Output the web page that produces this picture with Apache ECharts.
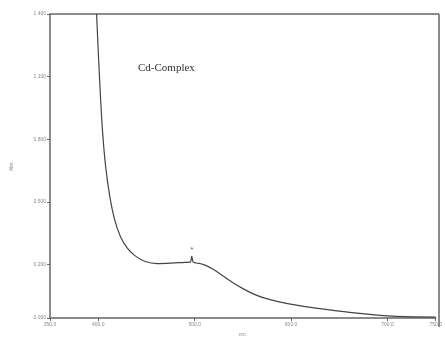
<!DOCTYPE html>
<html>
<head>
<meta charset="utf-8">
<script src="https://cdn.jsdelivr.net/npm/echarts@6/dist/echarts.min.js"></script>
<style>
html,body{margin:0;padding:0;background:#fff;}
#main{width:445px;height:342px;}
</style>
</head>
<body>
<div id="main"></div>
<script>
//波长 nm
var wavelength = [398.3, 400.4, 402.4, 404.5, 407.6, 411.7, 416.8, 423, 430.2, 438.4, 448.7, 461, 475.4, 489.8, 495.5, 497, 498.5, 502, 509.4, 519.7, 530, 540.2, 550.5, 560.8, 571, 586.5, 607, 636, 671, 705, 750];
//吸光度 Abs.
var absorbance = [1.40, 1.186, 1.000, 0.837, 0.674, 0.535, 0.419, 0.335, 0.279, 0.242, 0.215, 0.205, 0.207, 0.211, 0.212, 0.240, 0.212, 0.208, 0.200, 0.177, 0.144, 0.112, 0.084, 0.060, 0.042, 0.023, 0.005, -0.014, -0.033, -0.047, -0.051];
//刻度
var xTicks = [350, 400, 500, 600, 700, 750];
var yTicks = [-0.056, 0.200, 0.500, 0.800, 1.100, 1.400];
//峰位
var peakX = 497;
var peakY = 0.240;

var points = [];
for (var i = 0; i < wavelength.length; i++) {
	points.push([wavelength[i], absorbance[i]]);
}

var myChart = echarts.init(document.getElementById('main'));

var option = {
	animation: false,
	grid: {left: 50, right: 6, top: 14, bottom: 15},
	xAxis: {
		type: 'value',
		min: 350,
		max: 750,
		name: 'nm.',
		nameLocation: 'middle',
		nameGap: 8,
		nameTextStyle: {fontSize: 5, color: '#888'},
		axisLine: {show: true, onZero: false, lineStyle: {color: '#666', width: 1.5}},
		axisTick: {show: true, length: 3, customValues: xTicks, lineStyle: {color: '#666'}},
		axisLabel: {fontSize: 5, color: '#888', margin: 4, customValues: xTicks,
			formatter: function(v) { return v.toFixed(1); }},
		splitLine: {show: false}
	},
	yAxis: {
		type: 'value',
		min: -0.056,
		max: 1.4,
		name: 'Abs.',
		nameLocation: 'middle',
		nameGap: 36,
		nameRotate: 90,
		nameTextStyle: {fontSize: 5, color: '#888'},
		axisLine: {show: true, onZero: false, lineStyle: {color: '#666', width: 1.5}},
		axisTick: {show: true, length: 3, customValues: yTicks, lineStyle: {color: '#666'}},
		axisLabel: {fontSize: 5, color: '#888', margin: 4, customValues: yTicks,
			formatter: function(v) { return v < 0 ? '0.000' : v.toFixed(3); }},
		splitLine: {show: false}
	},
	series: [{
		type: 'line',
		data: points,
		symbol: 'none',
		smooth: 0.3,
		clip: true,
		lineStyle: {color: '#444', width: 1.2},
		markPoint: {
			symbol: 'circle',
			symbolSize: 0,
			label: {show: true, formatter: '*', fontSize: 7, color: '#555', offset: [0, -6]},
			data: [{coord: [peakX, peakY]}]
		}
	}],
	graphic: [
		//外框 右、上
		{type: 'line', shape: {x1: 50, y1: 14, x2: 439, y2: 14}, style: {stroke: '#666', lineWidth: 1.5}},
		{type: 'line', shape: {x1: 439, y1: 14, x2: 439, y2: 327}, style: {stroke: '#666', lineWidth: 1.5}},
		{type: 'text', left: 138, top: 63,
			style: {text: 'Cd-Complex', font: '11px "Liberation Serif", serif', fill: '#333'}}
	]
};

myChart.setOption(option);
</script>
</body>
</html>
